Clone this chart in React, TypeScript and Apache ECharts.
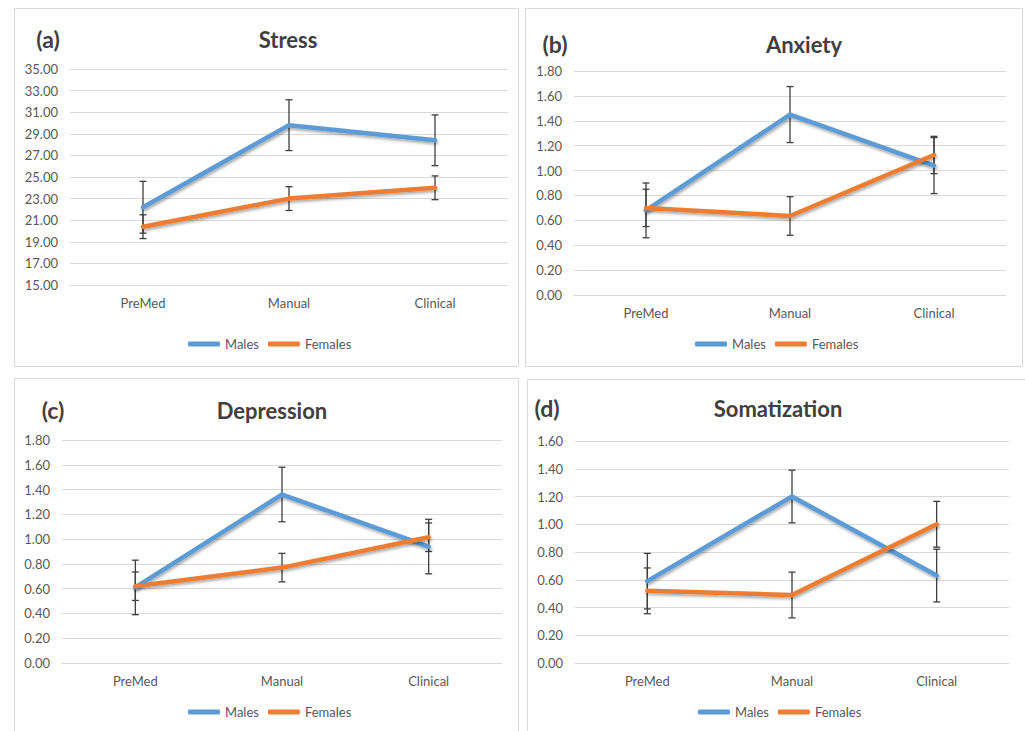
import React, { useEffect, useRef } from "react";
import * as echarts from "echarts";

const categories = ["PreMed", "Manual", "Clinical"];
const seriesNames = ["Males", "Females"];

const stressMales = [22.2, 29.8, 28.4];
const stressMalesErr = [2.4, 2.35, 2.35];
const stressFemales = [20.4, 23.0, 24.0];
const stressFemalesErr = [1.1, 1.1, 1.1];

const anxietyMales = [0.68, 1.45, 1.04];
const anxietyMalesErr = [0.22, 0.225, 0.225];
const anxietyFemales = [0.7, 0.635, 1.125];
const anxietyFemalesErr = [0.15, 0.155, 0.15];

const depressionMales = [0.61, 1.36, 0.94];
const depressionMalesErr = [0.22, 0.22, 0.22];
const depressionFemales = [0.62, 0.77, 1.015];
const depressionFemalesErr = [0.115, 0.115, 0.115];

const somatMales = [0.59, 1.2, 0.63];
const somatMalesErr = [0.2, 0.19, 0.19];
const somatFemales = [0.52, 0.49, 1.0];
const somatFemalesErr = [0.165, 0.165, 0.165];

const panelTitles = ["Stress", "Anxiety", "Depression", "Somatization"];
const panelTags = ["(a)", "(b)", "(c)", "(d)"];
const yMin = [15, 0, 0, 0];
const yMax = [35, 1.8, 1.8, 1.6];
const yStep = [2, 0.2, 0.2, 0.2];

const FONT = "Lato, 'Open Sans', sans-serif";
const TEXT = "#595959";
const BLUE = "#5B9BD5";
const ORANGE = "#ED7D31";
const GRID = "#D9D9D9";

const panels = [
  { males: stressMales, mErr: stressMalesErr, females: stressFemales, fErr: stressFemalesErr },
  { males: anxietyMales, mErr: anxietyMalesErr, females: anxietyFemales, fErr: anxietyFemalesErr },
  { males: depressionMales, mErr: depressionMalesErr, females: depressionFemales, fErr: depressionFemalesErr },
  { males: somatMales, mErr: somatMalesErr, females: somatFemales, fErr: somatFemalesErr },
];

// layout
const grids = [
  { left: 70, top: 69, width: 438, height: 216 },
  { left: 574, top: 71, width: 432, height: 224 },
  { left: 62, top: 440, width: 440, height: 223 },
  { left: 575, top: 441, width: 434, height: 222 },
];
const boxes = [
  { x: 14.5, y: 8.5, w: 504, h: 358 },
  { x: 525.5, y: 8.5, w: 497, h: 358 },
  { x: 14.5, y: 378.5, w: 504, h: 370 },
  { x: 527.5, y: 379.5, w: 498, h: 370 },
];
const tagPos = [
  [48, 39], [555, 44], [53, 410], [547, 408],
];
const titlePos = [
  [288, 39], [804, 44], [272, 410], [778, 408],
];
const legendPos = [
  [188, 344], [695, 344], [188, 712], [698, 712],
];

function errData(vals: number[], errs: number[]) {
  return vals.map((v, i) => [i, v - errs[i], v + errs[i]]);
}

function renderErr(params: any, api: any) {
  const x = api.value(0);
  const lo = api.value(1);
  const hi = api.value(2);
  const p1 = api.coord([x, hi]);
  const p2 = api.coord([x, lo]);
  const w = 3.5;
  const style = { stroke: "#3F3F3F", lineWidth: 1.3 };
  return {
    type: "group",
    children: [
      { type: "line", shape: { x1: p1[0], y1: p1[1], x2: p2[0], y2: p2[1] }, style },
      { type: "line", shape: { x1: p1[0] - w, y1: p1[1], x2: p1[0] + w, y2: p1[1] }, style },
      { type: "line", shape: { x1: p2[0] - w, y1: p2[1], x2: p2[0] + w, y2: p2[1] }, style },
    ],
  };
}

export default function App() {
  const ref = useRef<HTMLDivElement>(null);
  useEffect(() => {
    if (!ref.current) return;
    const chart = echarts.init(ref.current, undefined, { renderer: "svg" });

    const grid: any[] = [];
    const xAxis: any[] = [];
    const yAxis: any[] = [];
    const series: any[] = [];
    const legend: any[] = [];
    const graphic: any[] = [];

    panels.forEach((p, k) => {
      grid.push({ ...grids[k], containLabel: false });
      xAxis.push({
        type: "category",
        gridIndex: k,
        data: categories,
        boundaryGap: true,
        axisLine: { show: true, lineStyle: { color: GRID, width: 1 } },
        axisTick: { show: false },
        axisLabel: { color: TEXT, fontFamily: FONT, fontSize: 13, margin: 11 },
        splitLine: { show: false },
      });
      yAxis.push({
        type: "value",
        gridIndex: k,
        min: yMin[k],
        max: yMax[k],
        interval: yStep[k],
        axisLine: { show: false },
        axisTick: { show: false },
        axisLabel: {
          color: TEXT,
          fontFamily: FONT,
          fontSize: 13,
          margin: 12,
          formatter: (v: number) => v.toFixed(2),
        },
        splitLine: { show: true, lineStyle: { color: GRID, width: 1 } },
      });
      series.push({
        type: "custom",
        name: "Males error",
        xAxisIndex: k,
        yAxisIndex: k,
        renderItem: renderErr,
        encode: { x: 0, y: [1, 2] },
        data: errData(p.males, p.mErr),
        z: 1,
        silent: true,
      });
      series.push({
        type: "custom",
        name: "Females error",
        xAxisIndex: k,
        yAxisIndex: k,
        renderItem: renderErr,
        encode: { x: 0, y: [1, 2] },
        data: errData(p.females, p.fErr),
        z: 1,
        silent: true,
      });
      const lineCommon = {
        type: "line",
        xAxisIndex: k,
        yAxisIndex: k,
        symbol: "none",
        smooth: false,
      };
      series.push({
        ...lineCommon,
        name: seriesNames[0],
        data: p.males,
        z: 3,
        itemStyle: { color: BLUE },
        lineStyle: {
          color: BLUE,
          width: 4.5,
          cap: "round",
          join: "round",
          shadowColor: "rgba(0,0,0,0.35)",
          shadowBlur: 3,
          shadowOffsetY: 2,
          shadowOffsetX: 1,
        },
      });
      series.push({
        ...lineCommon,
        name: seriesNames[1],
        data: p.females,
        z: 4,
        itemStyle: { color: ORANGE },
        lineStyle: {
          color: ORANGE,
          width: 4.5,
          cap: "round",
          join: "round",
          shadowColor: "rgba(0,0,0,0.35)",
          shadowBlur: 3,
          shadowOffsetY: 2,
          shadowOffsetX: 1,
        },
      });
      legend.push({
        data: seriesNames,
        left: legendPos[k][0],
        top: legendPos[k][1] - 8,
        orient: "horizontal",
        icon: "roundRect",
        itemWidth: 32,
        itemHeight: 5,
        itemGap: 9,
        padding: 0,
        selectedMode: false,
        textStyle: { color: TEXT, fontFamily: FONT, fontSize: 13, lineHeight: 16 },
      });
      graphic.push({
        type: "rect",
        shape: { x: boxes[k].x, y: boxes[k].y, width: boxes[k].w, height: boxes[k].h },
        style: { fill: "none", stroke: GRID, lineWidth: 1 },
        z: -10,
        silent: true,
      });
      graphic.push({
        type: "text",
        x: tagPos[k][0],
        y: tagPos[k][1],
        style: {
          text: panelTags[k],
          fill: "#404040",
          font: `bold 23px ${FONT}`,
          textAlign: "center",
          textVerticalAlign: "middle",
        },
      });
      graphic.push({
        type: "text",
        x: titlePos[k][0],
        y: titlePos[k][1],
        style: {
          text: panelTitles[k],
          fill: "#404040",
          font: `bold 22px ${FONT}`,
          textAlign: "center",
          textVerticalAlign: "middle",
        },
      });
    });

    chart.setOption({
      animation: false,
      backgroundColor: "#ffffff",
      grid,
      xAxis,
      yAxis,
      series,
      legend,
      graphic,
    });
    return () => chart.dispose();
  }, []);

  return (
    <div
      ref={ref}
      style={{ position: "fixed", left: 0, top: 0, width: 1025, height: 731 }}
    />
  );
}
